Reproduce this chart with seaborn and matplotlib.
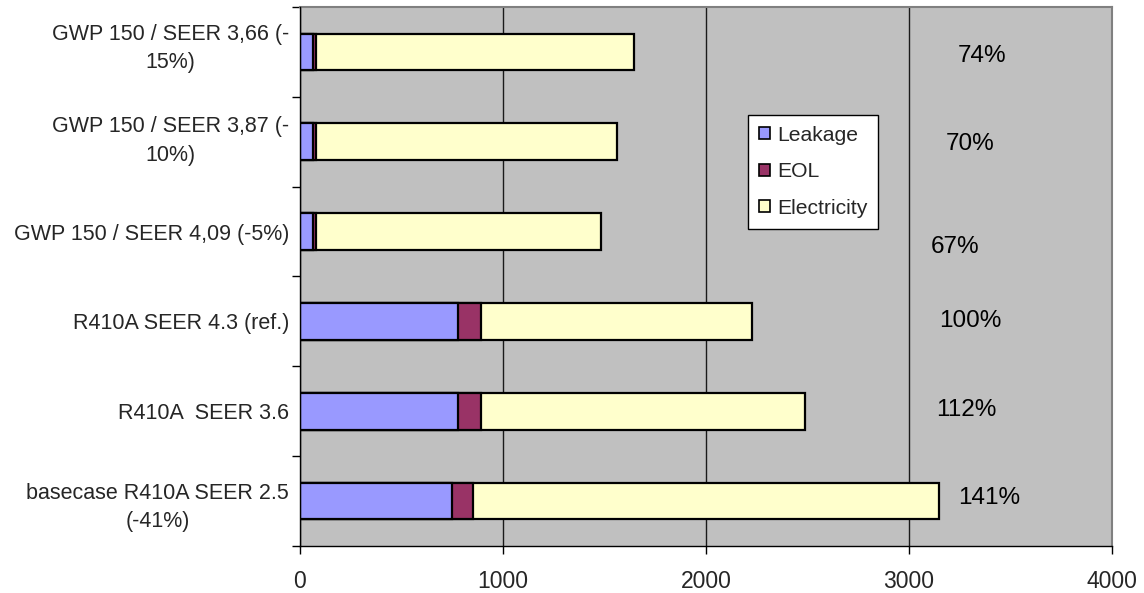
import matplotlib
matplotlib.use("Agg")
import matplotlib.pyplot as plt
import matplotlib.transforms as mtransforms
from matplotlib.patches import Patch
from matplotlib.ticker import FixedLocator
import numpy as np
import pandas as pd
import seaborn as sns

# Life-cycle emissions per configuration (kg CO2 eq.), top to bottom
categories = [
    "GWP 150 / SEER 3,66 (-\n15%)",
    "GWP 150 / SEER 3,87 (-\n10%)",
    "GWP 150 / SEER 4,09 (-5%)",
    "R410A SEER 4.3 (ref.)",
    "R410A  SEER 3.6",
    "basecase R410A SEER 2.5\n(-41%)",
]
leakage = [65, 65, 65, 780, 780, 750]
eol = [15, 15, 15, 110, 110, 100]
electricity = [1565, 1484, 1403, 1335, 1600, 2300]
ratio_labels = ["74%", "70%", "67%", "100%", "112%", "141%"]
x_ticks = [0, 1000, 2000, 3000, 4000]

# placement of the ratio annotations (x in data units, y shift in category units)
ratio_x = [3362, 3300, 3227, 3300, 3283, 3394]
ratio_dy = [0.045, 0.02, 0.17, 0.0, -0.01, -0.03]
# small upward nudge (points) for the first wrapped category labels
label_lift = [7, 5, 0, 0, 0, 0]

series_names = ["Leakage", "EOL", "Electricity"]
series_colors = ["#9999FF", "#993366", "#FFFFCC"]

sns.set_style("white")
plt.rcParams["font.family"] = ["Liberation Sans", "DejaVu Sans"]

df = pd.DataFrame({
    "category": categories,
    "Leakage": leakage,
    "EOL": eol,
    "Electricity": electricity,
})
df["cum_leak"] = df["Leakage"]
df["cum_eol"] = df["cum_leak"] + df["EOL"]
df["cum_elec"] = df["cum_eol"] + df["Electricity"]

fig = plt.figure(figsize=(11.44, 5.93), dpi=100)
ax = fig.add_axes([300 / 1144, 1 - 546 / 593, 812 / 1144, 539 / 593])
ax.set_facecolor("#C0C0C0")

# stacked bars drawn as cumulative totals, longest first
for col, color in zip(["cum_elec", "cum_eol", "cum_leak"], series_colors[::-1]):
    sns.barplot(data=df, x=col, y="category", orient="h", color=color,
                width=0.41, edgecolor="black", linewidth=1.6,
                saturation=1, ax=ax, zorder=3)

ax.set_xlim(0, 4000)
ax.set_ylim(5.5, -0.5)
ax.set_xlabel("")
ax.set_ylabel("")

# vertical gridlines
ax.set_xticks(x_ticks)
ax.set_xticklabels([str(t) for t in x_ticks])
ax.xaxis.grid(True, color="#1a1a1a", linewidth=1.0, zorder=0)
ax.yaxis.grid(False)
ax.set_axisbelow(True)

# category labels centred, tick marks on category boundaries
ax.set_yticks(np.arange(len(categories)))
ax.set_yticklabels(categories)
ax.yaxis.set_minor_locator(FixedLocator(np.arange(-0.5, len(categories), 1.0)))
ax.tick_params(axis="y", which="major", length=0, pad=8, labelsize=15.5)
ax.tick_params(axis="y", which="minor", length=6, width=1, color="black", left=True)
ax.tick_params(axis="x", which="major", length=6, width=1, color="black",
               bottom=True, pad=11, labelsize=16.5)
for lab, lift in zip(ax.get_yticklabels(), label_lift):
    lab.set_multialignment("center")
    lab.set_linespacing(1.45)
    if lift:
        lab.set_transform(lab.get_transform() + mtransforms.ScaledTranslation(
            0, lift / 72, fig.dpi_scale_trans))

for side in ["top", "right"]:
    ax.spines[side].set_color("#808080")
    ax.spines[side].set_linewidth(1.5)
for side in ["left", "bottom"]:
    ax.spines[side].set_color("black")
    ax.spines[side].set_linewidth(1.0)
    ax.spines[side].set_zorder(5)

# ratio to the reference case
for i, (txt, xr, dy) in enumerate(zip(ratio_labels, ratio_x, ratio_dy)):
    ax.text(xr, i + dy, txt, ha="center", va="center", fontsize=17.5,
            color="black", zorder=6)

handles = [Patch(facecolor=c, edgecolor="black", linewidth=1.2, label=n)
           for n, c in zip(series_names, series_colors)]
leg = ax.legend(handles=handles, loc="upper left",
                bbox_to_anchor=((748 - 300) / 812, 1 - (115 - 7) / 539),
                borderaxespad=0, frameon=True, fancybox=False, shadow=False,
                fontsize=15.2, handlelength=0.5, handleheight=0.5,
                handletextpad=0.35, labelspacing=0.82, borderpad=0.52)
leg.get_frame().set_edgecolor("black")
leg.get_frame().set_linewidth(1.0)
leg.get_frame().set_facecolor("white")
leg.get_frame().set_alpha(1)
leg.set_zorder(7)

fig.savefig("out.png", dpi=100)
